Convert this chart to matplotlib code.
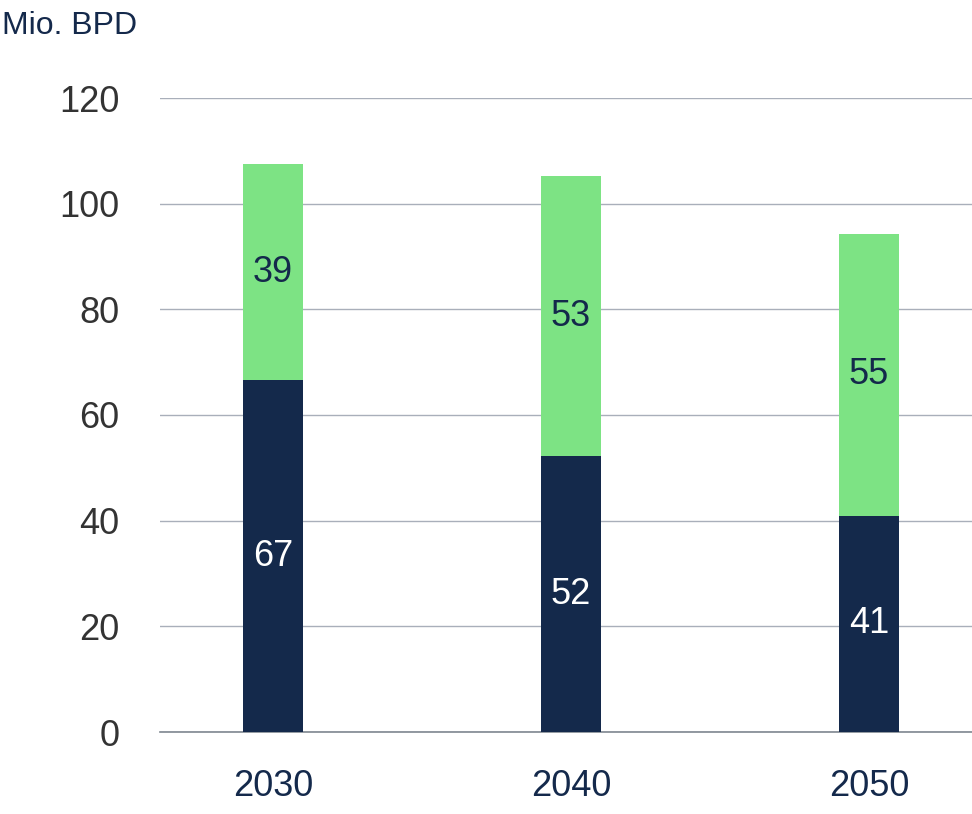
import matplotlib
matplotlib.use("Agg")
import matplotlib.pyplot as plt

categories = ["2030", "2040", "2050"]
dark_values = [66.6, 52.2, 40.9]
green_values = [40.9, 53.0, 53.4]
dark_labels = ["67", "52", "41"]
green_labels = ["39", "53", "55"]
yticks = [0, 20, 40, 60, 80, 100, 120]

plt.rcParams['font.family'] = ['Liberation Sans', 'DejaVu Sans']

fig = plt.figure(figsize=(9.72, 8.14), dpi=100)
ax = fig.add_axes([160/972, 82/814, 812/972, (732-98)/814])

navy = "#14294b"
green = "#7de384"
x = list(range(len(categories)))
w = 0.201
ax.bar(x, dark_values, width=w, color=navy, zorder=3)
ax.bar(x, green_values, width=w, bottom=dark_values, color=green, zorder=3)

for i in x:
    ax.text(i, dark_values[i]/2, dark_labels[i], ha='center', va='center',
            color='white', fontsize=26, zorder=4)
    ax.text(i, dark_values[i] + green_values[i]/2, green_labels[i], ha='center', va='center',
            color=navy, fontsize=26, zorder=4)

ax.set_xlim(-113/298, 2 + 103/298)
ax.set_ylim(0, 120)
ax.set_yticks(yticks)
ax.set_xticks(x)
ax.set_xticklabels(categories)
ax.yaxis.grid(True, color="#a9afba", linewidth=1)
ax.set_axisbelow(True)
for s in ax.spines.values():
    s.set_visible(False)
ax.axhline(0, color="#7f8790", linewidth=1.2, zorder=2, clip_on=False)
ax.tick_params(axis='y', length=0, pad=29, labelsize=26, labelcolor="#333333")
ax.tick_params(axis='x', length=0, pad=27, labelsize=26, labelcolor=navy)

fig.text(2/972, 1 - 26/814, "Mio. BPD", ha='left', va='center', fontsize=23, color=navy)

fig.savefig("out.png", dpi=100)
